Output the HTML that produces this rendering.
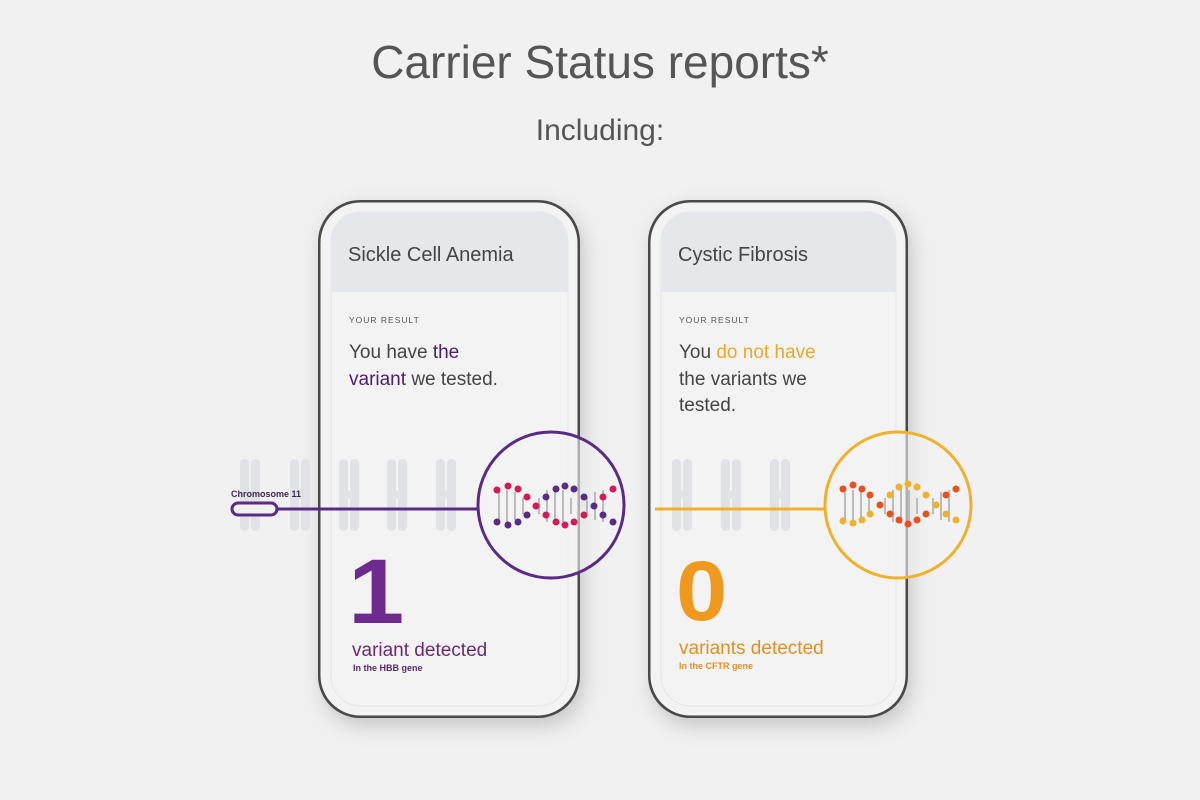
<!DOCTYPE html>
<html><head><meta charset="utf-8"><style>
html,body{margin:0;padding:0;background:#f1f1f1;}
svg{display:block}
text{font-family:"Liberation Sans",sans-serif}
</style></head><body>
<svg width="1200" height="800" viewBox="0 0 1200 800" xmlns="http://www.w3.org/2000/svg">
<defs>
<filter id="sh" x="-20%" y="-20%" width="140%" height="140%"><feDropShadow dx="4" dy="8" stdDeviation="10" flood-color="#000" flood-opacity="0.18"/></filter>
<g id="chr"><rect x="-10" y="-36" width="9" height="72" rx="4.5" fill="#dfe0e4"/><rect x="1" y="-36" width="9" height="72" rx="4.5" fill="#dfe0e4"/><rect x="-6" y="-4" width="12" height="8" fill="#dfe0e4"/></g>
</defs>
<rect width="1200" height="800" fill="#f1f1f1"/>
<text x="600" y="78" font-size="46" fill="#555" text-anchor="middle">Carrier Status reports*</text>
<text x="600" y="140" font-size="30" fill="#555" text-anchor="middle">Including:</text>

<!-- phone left -->
<g filter="url(#sh)">
<rect x="318" y="200" width="262" height="518" rx="42" fill="#4a4a4a"/>
<rect x="320.5" y="202.5" width="257" height="513" rx="40" fill="#f3f3f3"/>
</g>
<rect x="331" y="212" width="237" height="494" rx="30" fill="#f3f3f3" stroke="#e6e6e6"/>
<path d="M331 292 V240 a28 28 0 0 1 28 -28 H540 a28 28 0 0 1 28 28 V292 Z" fill="#e6e7ea"/>
<text x="348" y="261" font-size="20" fill="#444">Sickle Cell Anemia</text>
<text x="349" y="323" font-size="8.5" fill="#555" letter-spacing="1">YOUR RESULT</text>
<text x="349" y="358" font-size="19" fill="#444">You have <tspan fill="#4b1e6e">the</tspan></text>
<text x="349" y="385" font-size="19" fill="#4b1e6e">variant <tspan fill="#444">we tested.</tspan></text>

<!-- phone right -->
<g filter="url(#sh)">
<rect x="648" y="200" width="260" height="518" rx="42" fill="#4a4a4a"/>
<rect x="650.5" y="202.5" width="255" height="513" rx="40" fill="#f3f3f3"/>
</g>
<rect x="661" y="212" width="235" height="494" rx="30" fill="#f3f3f3" stroke="#e6e6e6"/>
<path d="M661 292 V240 a28 28 0 0 1 28 -28 H868 a28 28 0 0 1 28 28 V292 Z" fill="#e6e7ea"/>
<text x="678" y="261" font-size="20" fill="#444">Cystic Fibrosis</text>
<text x="679" y="323" font-size="8.5" fill="#555" letter-spacing="1">YOUR RESULT</text>
<text x="679" y="358" font-size="19" fill="#444">You <tspan fill="#e9a92a">do not have</tspan></text>
<text x="679" y="385" font-size="19" fill="#444">the variants we</text>
<text x="679" y="411" font-size="19" fill="#444">tested.</text>

<!-- chromosomes -->
<g opacity="0.85">
<use href="#chr" x="250" y="495"/><use href="#chr" x="300" y="495"/><use href="#chr" x="349" y="495"/><use href="#chr" x="397" y="495"/><use href="#chr" x="446" y="495"/>
<use href="#chr" x="682" y="495"/><use href="#chr" x="731" y="495"/><use href="#chr" x="780" y="495"/>
</g>

<text x="348" y="623" font-size="92" font-weight="bold" fill="#6e2a8e" transform="translate(348 0) scale(1.1 1) translate(-348 0)">1</text>
<text x="352" y="656" font-size="19" fill="#6e2a6e">variant detected</text>
<text x="353" y="671" font-size="9" font-weight="bold" fill="#5a2a6e">In the HBB gene</text>
<text x="676" y="620" font-size="84" font-weight="bold" fill="#ef9a1f" transform="translate(676 0) scale(1.1 1) translate(-676 0)">0</text>
<text x="679" y="654" font-size="19" fill="#e4901e">variants detected</text>
<text x="679" y="669" font-size="9" font-weight="bold" fill="#e4901e">In the CFTR gene</text>

<!-- left connector -->
<text x="231" y="497" font-size="9" font-weight="bold" fill="#3a2a4e">Chromosome 11</text>
<rect x="232" y="503" width="45" height="12" rx="6" fill="#f1f1f1" stroke="#5a2a86" stroke-width="3"/>
<line x1="277" y1="509" x2="478" y2="509" stroke="#5a2a86" stroke-width="3"/>
<circle cx="551" cy="505" r="73" fill="rgba(243,243,243,0.6)" stroke="#5a2a86" stroke-width="3"/>
<g fill="#bbb">
<rect x="498" y="492" width="2" height="28"/><rect x="506" y="490" width="2" height="32"/><rect x="514" y="492" width="2" height="28"/><rect x="522" y="498" width="2" height="16"/><rect x="538" y="498" width="2" height="16"/><rect x="546" y="490" width="2" height="32"/><rect x="554" y="488" width="2" height="36"/><rect x="562" y="490" width="2" height="32"/><rect x="570" y="498" width="2" height="16"/><rect x="586" y="498" width="2" height="16"/><rect x="594" y="492" width="2" height="28"/><rect x="602" y="490" width="2" height="32"/>
</g>
<g>
<circle cx="497" cy="490" r="3.5" fill="#d6175a"/><circle cx="508" cy="486" r="3.5" fill="#d6175a"/><circle cx="518" cy="489" r="3.5" fill="#d6175a"/><circle cx="527" cy="497" r="3.5" fill="#d6175a"/><circle cx="536" cy="506" r="3.5" fill="#d6175a"/><circle cx="546" cy="497" r="3.5" fill="#5a2a86"/><circle cx="556" cy="489" r="3.5" fill="#5a2a86"/><circle cx="565" cy="486" r="3.5" fill="#5a2a86"/><circle cx="574" cy="489" r="3.5" fill="#5a2a86"/><circle cx="584" cy="497" r="3.5" fill="#5a2a86"/><circle cx="594" cy="506" r="3.5" fill="#5a2a86"/><circle cx="603" cy="497" r="3.5" fill="#d6175a"/><circle cx="613" cy="489" r="3.5" fill="#d6175a"/>
<circle cx="497" cy="522" r="3.5" fill="#5a2a86"/><circle cx="508" cy="525" r="3.5" fill="#5a2a86"/><circle cx="518" cy="522" r="3.5" fill="#5a2a86"/><circle cx="527" cy="515" r="3.5" fill="#5a2a86"/><circle cx="546" cy="515" r="3.5" fill="#d6175a"/><circle cx="556" cy="522" r="3.5" fill="#d6175a"/><circle cx="565" cy="525" r="3.5" fill="#d6175a"/><circle cx="574" cy="522" r="3.5" fill="#d6175a"/><circle cx="584" cy="515" r="3.5" fill="#d6175a"/><circle cx="603" cy="515" r="3.5" fill="#5a2a86"/><circle cx="613" cy="522" r="3.5" fill="#5a2a86"/>
</g>

<!-- right connector -->
<line x1="655" y1="509" x2="826" y2="509" stroke="#efb02c" stroke-width="3"/>
<circle cx="898" cy="505" r="73" fill="rgba(243,243,243,0.6)" stroke="#efb02c" stroke-width="3"/>
<g fill="#bbb">
<rect x="844" y="492" width="2" height="28"/><rect x="852" y="490" width="2" height="32"/><rect x="860" y="492" width="2" height="28"/><rect x="868" y="498" width="2" height="16"/><rect x="884" y="498" width="2" height="16"/><rect x="892" y="490" width="2" height="32"/><rect x="900" y="488" width="2" height="36"/><rect x="908" y="490" width="2" height="32"/><rect x="916" y="498" width="2" height="16"/><rect x="932" y="498" width="2" height="16"/><rect x="940" y="492" width="2" height="28"/><rect x="948" y="490" width="2" height="32"/>
</g>
<g>
<circle cx="843" cy="489" r="3.5" fill="#e8501e"/><circle cx="853" cy="485" r="3.5" fill="#e8501e"/><circle cx="862" cy="489" r="3.5" fill="#e8501e"/><circle cx="870" cy="495" r="3.5" fill="#e8501e"/><circle cx="880" cy="505" r="3.5" fill="#e8501e"/><circle cx="890" cy="495" r="3.5" fill="#efb02c"/><circle cx="899" cy="487" r="3.5" fill="#efb02c"/><circle cx="908" cy="484" r="3.5" fill="#efb02c"/><circle cx="917" cy="487" r="3.5" fill="#efb02c"/><circle cx="926" cy="495" r="3.5" fill="#efb02c"/><circle cx="936" cy="505" r="3.5" fill="#efb02c"/><circle cx="946" cy="495" r="3.5" fill="#e8501e"/><circle cx="956" cy="489" r="3.5" fill="#e8501e"/>
<circle cx="843" cy="521" r="3.5" fill="#efb02c"/><circle cx="853" cy="523" r="3.5" fill="#efb02c"/><circle cx="862" cy="520" r="3.5" fill="#efb02c"/><circle cx="870" cy="514" r="3.5" fill="#efb02c"/><circle cx="890" cy="514" r="3.5" fill="#e8501e"/><circle cx="899" cy="520" r="3.5" fill="#e8501e"/><circle cx="908" cy="524" r="3.5" fill="#e8501e"/><circle cx="917" cy="520" r="3.5" fill="#e8501e"/><circle cx="926" cy="514" r="3.5" fill="#e8501e"/><circle cx="946" cy="514" r="3.5" fill="#efb02c"/><circle cx="956" cy="520" r="3.5" fill="#efb02c"/>
</g>
</svg>
</body></html>
